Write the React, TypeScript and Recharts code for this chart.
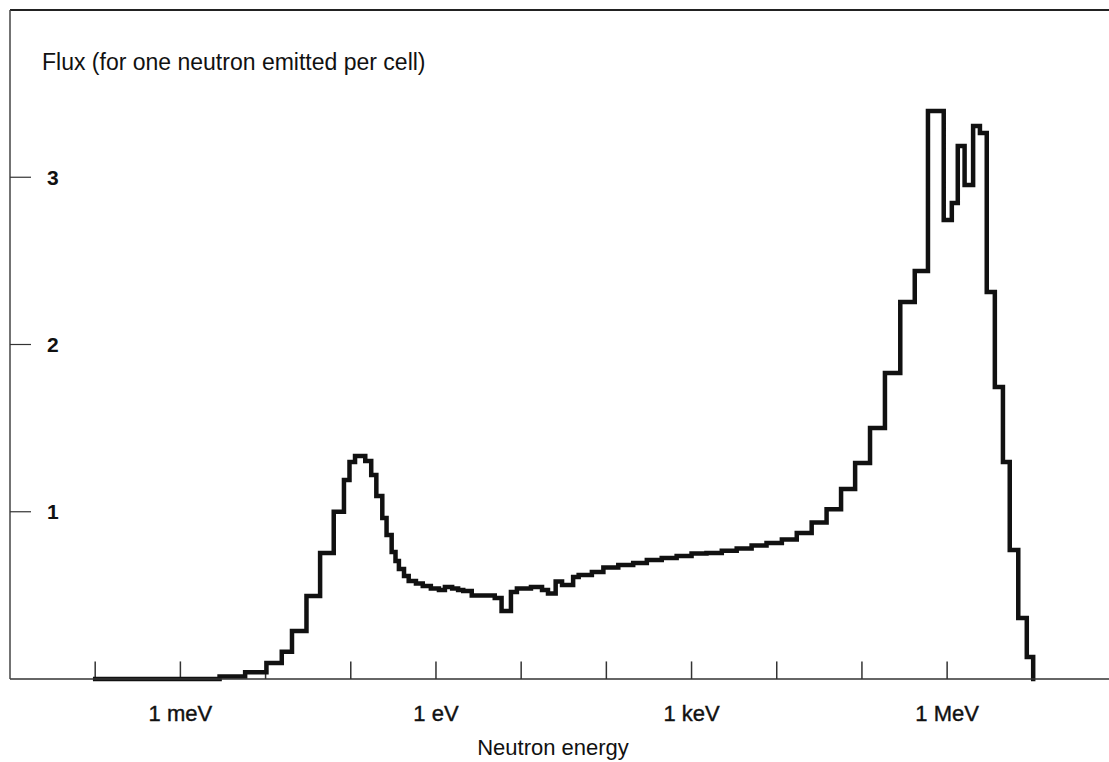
import React from 'react';
import { LineChart, Line, XAxis, YAxis, ReferenceLine } from 'recharts';

// Bin lower edges, in log10(E / eV); the last entry is the upper edge of the last bin
const binEdgesLog10eV = [
  -4.0, -2.54, -2.24, -1.99, -1.81, -1.69, -1.52, -1.36, -1.2, -1.08,
  -1.015, -0.95, -0.83, -0.76, -0.7, -0.63, -0.58, -0.52, -0.475, -0.435,
  -0.375, -0.32, -0.235, -0.155, -0.06, 0.035, 0.105, 0.19, 0.26, 0.32,
  0.42, 0.69, 0.77, 0.88, 0.95, 1.115, 1.245, 1.315, 1.405, 1.48,
  1.61, 1.675, 1.83, 1.965, 2.14, 2.315, 2.475, 2.65, 2.825, 3.0,
  3.175, 3.355, 3.53, 3.705, 3.88, 4.06, 4.235, 4.41, 4.585, 4.755,
  4.92, 5.095, 5.27, 5.45, 5.62, 5.775, 5.96, 6.055, 6.125, 6.205,
  6.305, 6.385, 6.465, 6.56, 6.655, 6.735, 6.835, 6.935, 7.01,
];

// Flux value of each bin (one fewer than the edges)
const fluxPerBin = [
  0, 0.015, 0.04, 0.095, 0.163, 0.287, 0.496, 0.753, 1.0, 1.19,
  1.297, 1.333, 1.303, 1.22, 1.094, 0.963, 0.861, 0.759, 0.706, 0.658,
  0.616, 0.586, 0.571, 0.556, 0.541, 0.532, 0.55, 0.541, 0.532, 0.526,
  0.499, 0.484, 0.407, 0.52, 0.541, 0.55, 0.532, 0.511, 0.583, 0.562,
  0.61, 0.622, 0.64, 0.667, 0.682, 0.694, 0.712, 0.723, 0.735, 0.75,
  0.753, 0.767, 0.781, 0.798, 0.813, 0.834, 0.873, 0.935, 1.015, 1.136,
  1.291, 1.501, 1.83, 2.254, 2.439, 3.396, 2.744, 2.846, 3.187, 2.954,
  3.306, 3.265, 2.314, 1.746, 1.297, 0.771, 0.365, 0.132,
];

const labelledDecades = [-3, 0, 3, 6];
const decadeLabels = ['1 meV', '1 eV', '1 keV', '1 MeV'];
const decadeTickMarks = [-4, -3, -2, -1, 0, 1, 2, 3, 4, 5, 6, 7];
const fluxTicks = [1, 2, 3];
const yTitle = 'Flux (for one neutron emitted per cell)';
const xTitle = 'Neutron energy';

const data = binEdgesLog10eV.map((x, i) => ({
  x,
  flux: i < fluxPerBin.length ? fluxPerBin[i] : 0,
}));

const FONT = '"Liberation Sans", Arial, Helvetica, sans-serif';

const XTick = (props: any) => {
  const { x, y, payload } = props;
  const idx = labelledDecades.indexOf(payload.value);
  if (idx < 0) return null;
  return (
    <text x={x} y={y + 42} textAnchor="middle" fontFamily={FONT} fontSize={22} fill="#111" stroke="#111" strokeWidth={0.4}>
      {decadeLabels[idx]}
    </text>
  );
};

export default function App() {
  return (
    <div style={{ position: 'absolute', left: 0, top: 0, width: 1109, height: 762, background: '#fff' }}>
      <LineChart
        width={1109}
        height={762}
        data={data}
        margin={{ top: 10, right: 0, bottom: 0, left: 10 }}
      >
        <XAxis
          type="number"
          dataKey="x"
          domain={[-5, 7.9]}
          allowDataOverflow
          ticks={labelledDecades}
          tickLine={false}
          tickSize={0}
          tickMargin={0}
          height={83}
          axisLine={{ stroke: '#333', strokeWidth: 1.5 }}
          tick={<XTick />}
          interval={0}
        />
        <YAxis
          type="number"
          domain={[0, 4]}
          ticks={fluxTicks}
          mirror
          tickSize={21}
          tickMargin={16}
          axisLine={{ stroke: '#444', strokeWidth: 1.5 }}
          tickLine={{ stroke: '#333', strokeWidth: 1.2 }}
          tick={{ fontFamily: FONT, fontSize: 21, fontWeight: 'bold', fill: '#111' }}
        />
        <ReferenceLine y={4} stroke="#222" strokeWidth={2} />
        {decadeTickMarks.map((d) => (
          <ReferenceLine
            key={d}
            segment={[{ x: d, y: 0 }, { x: d, y: 0.105 }]}
            stroke="#333"
            strokeWidth={1.5}
          />
        ))}
        <Line
          type="stepAfter"
          dataKey="flux"
          stroke="#111"
          strokeWidth={4.5}
          dot={false}
          isAnimationActive={false}
          strokeLinejoin="miter"
          strokeLinecap="square"
        />
        <text x={42} y={70} fontFamily={FONT} fontSize={23} fill="#111">
          {yTitle}
        </text>
        <text x={553} y={755} textAnchor="middle" fontFamily={FONT} fontSize={22} fill="#111">
          {xTitle}
        </text>
      </LineChart>
    </div>
  );
}
